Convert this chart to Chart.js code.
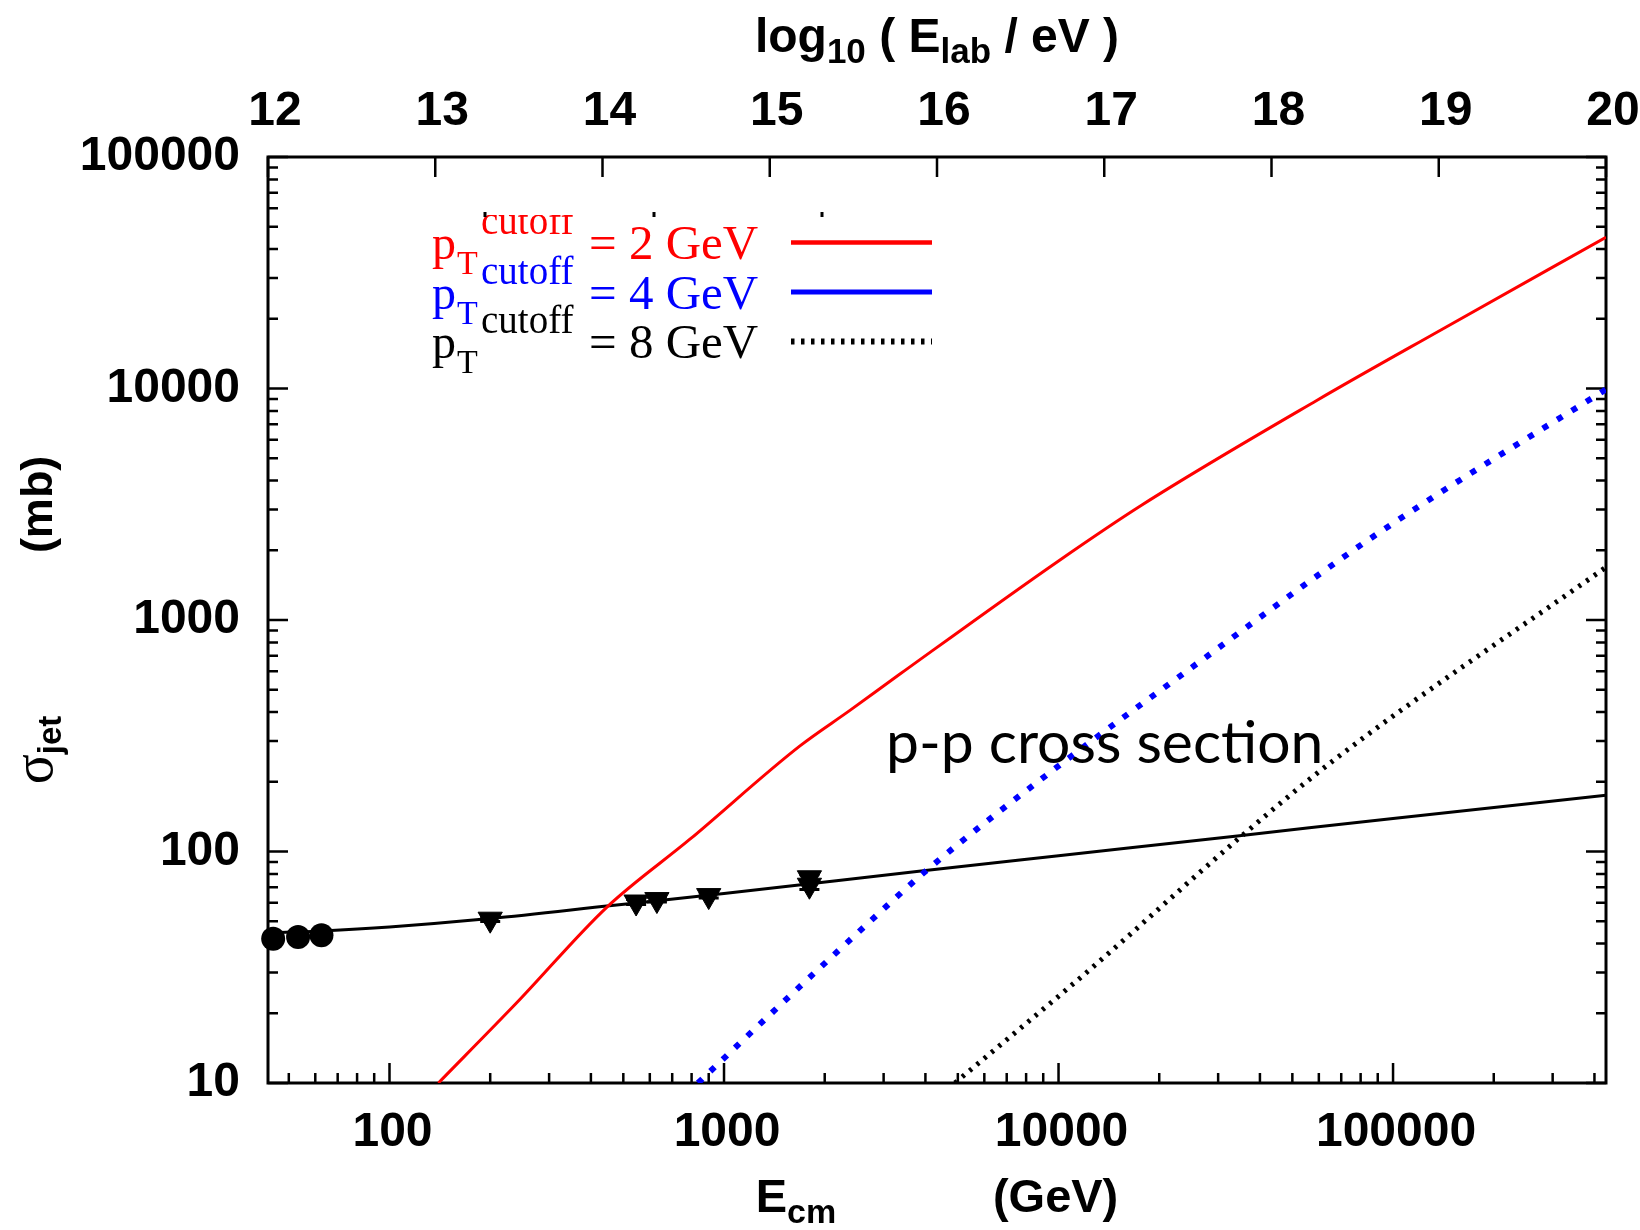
<!DOCTYPE html>
<html>
<head>
<meta charset="utf-8">
<script src="https://cdn.jsdelivr.net/npm/chart.js@4/dist/chart.umd.min.js"></script>
<style>
html,body{margin:0;padding:0;background:#fff;}
#wrap{width:1640px;height:1230px;}
</style>
</head>
<body>
<div id="wrap"><canvas id="c" width="1640" height="1230"></canvas></div>
<script>
// ---------------- data ----------------
// x: E_cm (GeV), y: sigma (mb)
const red2E      = [140, 240, 446, 791, 1687, 2379, 3357, 10000, 17750, 59300, 139000, 433000];
const red2Sigma  = [10, 22.2, 57.4, 113, 286, 407, 584, 1800, 3140, 8900, 17900, 45000];

const blue4E     = [836, 1370, 2462, 4065, 10380, 26550, 76200, 132500, 433000];
const blue4Sigma = [10, 19.7, 43.4, 83.7, 244, 664, 2005, 3410, 9900];

const black8E     = [4900, 12700, 34600, 67700, 433000];
const black8Sigma = [10, 31.8, 114, 253, 1690];

const ppFitE     = [43.33, 62.8, 100, 200, 462, 1000, 4000, 10000, 34750, 100000, 433000];
const ppFitSigma = [44.5, 45.4, 47.2, 51.3, 58.4, 65.8, 82.8, 95.9, 117, 139, 175];

const isrE     = [44.9, 53.3, 62.6];
const isrSigma = [42.0, 42.7, 43.5];

const ppbarE     = [200, 546, 630, 900, 1800, 1800];
const ppbarSigma = [51, 60.5, 62, 64.5, 77, 71.5];
const ppbarErr   = [1.2, 1.5, 1.5, 1.5, 2.4, 3.0];

const xTickValues   = [100, 1000, 10000, 100000];
const yTickValues   = [10, 100, 1000, 10000, 100000];
const topTickValues = [12, 13, 14, 15, 16, 17, 18, 19, 20];
const cutoffLabels  = ['2', '4', '8'];
const annotationText = 'p-p cross section';

// ---------------- helpers ----------------
const pts = (xs, ys) => xs.map((x, i) => ({x: x, y: ys[i]}));
const SANS = '"Liberation Sans", Arial, Helvetica, sans-serif';
const SERIF = '"Liberation Serif", "Times New Roman", Times, serif';
const tickFont = {family: SANS, size: 48, weight: 'bold', lineHeight: 1};

function drawRich(ctx, segs, x, y, align) {
  let w = 0;
  segs.forEach(s => { ctx.font = s.font; s.w = ctx.measureText(s.t).width; w += s.w; });
  let cx = align === 'center' ? x - w / 2 : x;
  segs.forEach(s => {
    ctx.font = s.font;
    ctx.fillStyle = s.color || '#000';
    ctx.fillText(s.t, cx, y + (s.dy || 0));
    cx += s.w;
  });
}

const framePlugin = {
  id: 'frame',
  beforeDatasetsDraw(chart) {
    const {ctx, chartArea: a, scales} = chart;
    const xs = scales.x, ys = scales.y, x2 = scales.x2;
    ctx.save();
    ctx.strokeStyle = '#000';
    ctx.lineWidth = 2.5;
    ctx.beginPath();
    for (let d = 10; d <= 1e6; d *= 10) {
      for (let m = 1; m <= 9; m++) {
        const v = m * d;
        if (v < xs.min || v > xs.max) continue;
        const px = xs.getPixelForValue(v);
        const len = m === 1 ? 20 : 10;
        ctx.moveTo(px, a.bottom); ctx.lineTo(px, a.bottom - len);
      }
    }
    x2.ticks.forEach(t => {
      const px = x2.getPixelForValue(t.value);
      ctx.moveTo(px, a.top); ctx.lineTo(px, a.top + 20);
    });
    for (let d = 10; d <= 1e5; d *= 10) {
      for (let m = 1; m <= 9; m++) {
        const v = m * d;
        if (v < ys.min || v > ys.max) continue;
        const py = ys.getPixelForValue(v);
        const len = m === 1 ? 20 : 10;
        ctx.moveTo(a.left, py); ctx.lineTo(a.left + len, py);
        ctx.moveTo(a.right, py); ctx.lineTo(a.right - len, py);
      }
    }
    ctx.stroke();
    ctx.lineWidth = 3;
    ctx.strokeRect(a.left, a.top, a.right - a.left, a.bottom - a.top);
    ctx.restore();
  },
  afterDatasetsDraw(chart) {
    const {ctx, scales} = chart;
    const xs = scales.x, ys = scales.y;
    ctx.save();
    ctx.strokeStyle = '#000';
    ctx.lineWidth = 3;
    ctx.beginPath();
    ppbarE.forEach((e, i) => {
      const px = xs.getPixelForValue(e);
      const y1 = ys.getPixelForValue(ppbarSigma[i] - ppbarErr[i]);
      const y2 = ys.getPixelForValue(ppbarSigma[i] + ppbarErr[i]);
      ctx.moveTo(px, y1); ctx.lineTo(px, y2);
      ctx.moveTo(px - 10, y1); ctx.lineTo(px + 10, y1);
      ctx.moveTo(px - 10, y2); ctx.lineTo(px + 10, y2);
    });
    ctx.stroke();
    ctx.restore();
  },
  afterDraw(chart) {
    const {ctx, chartArea: a} = chart;
    const cx = (a.left + a.right) / 2;
    const cy = (a.top + a.bottom) / 2;
    ctx.save();
    ctx.textBaseline = 'alphabetic';
    ctx.textAlign = 'left';
    const T = 'bold 48px ' + SANS, Ts = 'bold 35px ' + SANS;
    const B = 'bold 47px ' + SANS, Bs = 'bold 34px ' + SANS;
    const L = 'bold 45px ' + SANS, Ls = 'bold 33px ' + SANS;
    // top title
    drawRich(ctx, [
      {t: 'log', font: T}, {t: '10', font: Ts, dy: 11},
      {t: ' ( E', font: T}, {t: 'lab', font: Ts, dy: 11},
      {t: ' / eV )', font: T}
    ], cx, 52, 'center');
    // bottom title
    drawRich(ctx, [
      {t: 'E', font: B}, {t: 'cm', font: Bs, dy: 11},
      {t: '            (GeV)', font: B}
    ], cx, 1212, 'center');
    // y title (rotated)
    ctx.save();
    ctx.translate(52, cy);
    ctx.rotate(-Math.PI / 2);
    drawRich(ctx, [
      {t: '\u03C3', font: '56px ' + SERIF}, {t: 'jet', font: Ls, dy: 9},
      {t: '             (mb)', font: L}
    ], 0, 0, 'center');
    ctx.restore();

    // legend
    const ds = chart.data.datasets;
    const legendDash = [[], [], [3.5, 6.5]];
    const legendWidth = [4.5, 5, 6];
    ctx.save();
    ctx.beginPath();
    ctx.rect(0, 215, 1640, 1015);
    ctx.clip();
    cutoffLabels.forEach((c, i) => {
      const b = 259 + i * 49.5;
      const col = ds[i].borderColor;
      ctx.fillStyle = col;
      ctx.font = '48px ' + SERIF; ctx.fillText('p', 432, b);
      ctx.font = '34px ' + SERIF; ctx.fillText('T', 457, b + 15);
      ctx.font = '39px ' + SERIF; ctx.fillText('cutoff', 481, b - 25);
      ctx.font = '49px ' + SERIF; ctx.fillText('= ' + c + ' GeV', 589, b);
      ctx.strokeStyle = col;
      ctx.lineWidth = legendWidth[i];
      ctx.setLineDash(legendDash[i]);
      ctx.beginPath();
      ctx.moveTo(791, b - 16.5); ctx.lineTo(932, b - 16.5);
      ctx.stroke();
      ctx.setLineDash([]);
    });
    ctx.restore();
    // tiny specks left at the legend's clip edge
    ctx.fillStyle = '#000';
    [485, 654, 822].forEach(sx => ctx.fillRect(sx - 1.5, 212, 3, 5));

    // annotation
    ctx.font = '100px Lato, "Open Sans", sans-serif';
    const w100 = ctx.measureText(annotationText).width;
    const size = 100 * 437 / w100;
    ctx.font = size.toFixed(1) + 'px Lato, "Open Sans", sans-serif';
    ctx.fillStyle = '#000';
    ctx.fillText(annotationText, 886, 763);
    ctx.restore();
  }
};

const lineDs = (label, xs, ys, color, width, dash, smooth) => ({
  label: label, data: pts(xs, ys), borderColor: color, backgroundColor: color,
  borderWidth: width, borderDash: dash || [], borderCapStyle: 'butt',
  cubicInterpolationMode: smooth ? 'monotone' : 'default',
  pointRadius: 0, pointHoverRadius: 0, tension: 0, fill: false, xAxisID: 'x', yAxisID: 'y'
});

const noSidePadding = s => { s.paddingLeft = 0; s.paddingRight = 0; };

new Chart(document.getElementById('c').getContext('2d'), {
  type: 'line',
  data: {
    datasets: [
      lineDs('pT cutoff = 2 GeV', red2E, red2Sigma, '#ff0000', 3, [], true),
      lineDs('pT cutoff = 4 GeV', blue4E, blue4Sigma, '#0000ff', 6, [6, 11], true),
      lineDs('pT cutoff = 8 GeV', black8E, black8Sigma, '#000000', 5, [3, 6.5], true),
      lineDs('p-p cross section', ppFitE, ppFitSigma, '#000000', 3, [], true),
      {label: 'ISR', data: pts(isrE, isrSigma), showLine: false, pointStyle: 'circle',
       pointRadius: 12, pointBackgroundColor: '#000', pointBorderWidth: 0, clip: false,
       xAxisID: 'x', yAxisID: 'y'},
      {label: 'p-pbar', data: pts(ppbarE, ppbarSigma), showLine: false, pointStyle: 'triangle',
       pointRotation: 180, pointRadius: 14, pointBackgroundColor: '#000', pointBorderColor: '#000',
       pointBorderWidth: 1, clip: false, xAxisID: 'x', yAxisID: 'y'}
    ]
  },
  options: {
    responsive: false, animation: false, devicePixelRatio: 1,
    layout: {padding: {left: 0, right: 34, top: 0, bottom: 0}},
    plugins: {legend: {display: false}, tooltip: {enabled: false}, title: {display: false}},
    events: [],
    scales: {
      x: {
        type: 'logarithmic', position: 'bottom', min: 43.33, max: 433100,
        afterBuildTicks: s => { s.ticks = xTickValues.map(v => ({value: v})); },
        afterFit: s => { s.height = 147; noSidePadding(s); },
        grid: {display: false}, border: {display: false},
        ticks: {font: tickFont, color: '#000', padding: 18, labelOffset: 3, maxRotation: 0,
                autoSkip: false, callback: v => String(v)}
      },
      x2: {
        type: 'linear', position: 'top', min: 12, max: 20,
        afterBuildTicks: s => { s.ticks = topTickValues.map(v => ({value: v})); },
        afterFit: s => { s.height = 157; noSidePadding(s); },
        grid: {display: false}, border: {display: false},
        ticks: {font: tickFont, color: '#000', padding: 13, labelOffset: 7, maxRotation: 0,
                autoSkip: false, callback: v => String(v)}
      },
      y: {
        type: 'logarithmic', position: 'left', min: 10, max: 100000,
        afterBuildTicks: s => { s.ticks = yTickValues.map(v => ({value: v})); },
        afterFit: s => { s.width = 268; },
        grid: {display: false}, border: {display: false},
        ticks: {font: tickFont, color: '#000', padding: 20, autoSkip: false,
                callback: v => String(v)}
      }
    }
  },
  plugins: [framePlugin]
});
</script>
</body>
</html>
